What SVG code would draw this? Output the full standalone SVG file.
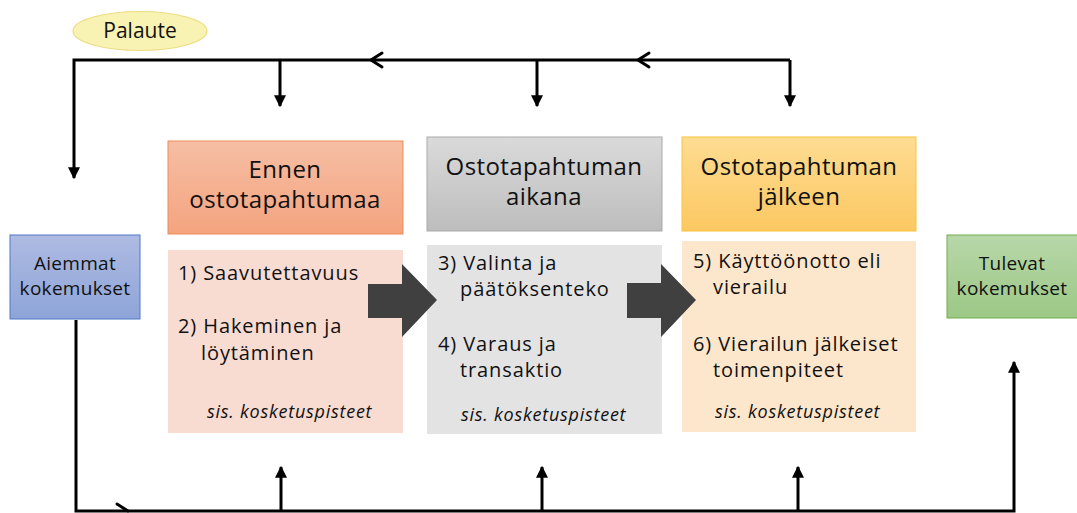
<svg xmlns="http://www.w3.org/2000/svg" width="1077" height="513" viewBox="0 0 1077 513">
<defs>
<linearGradient id="gBlue" x1="0" y1="0" x2="0" y2="1"><stop offset="0" stop-color="#aebbe2"/><stop offset="1" stop-color="#8ea4d8"/></linearGradient>
<linearGradient id="gGreen" x1="0" y1="0" x2="0" y2="1"><stop offset="0" stop-color="#b7d7a9"/><stop offset="1" stop-color="#9cc886"/></linearGradient>
<linearGradient id="gOrange" x1="0" y1="0" x2="0" y2="1"><stop offset="0" stop-color="#f6bea4"/><stop offset="1" stop-color="#f4a47f"/></linearGradient>
<linearGradient id="gGray" x1="0" y1="0" x2="0" y2="1"><stop offset="0" stop-color="#dadada"/><stop offset="1" stop-color="#bdbdbd"/></linearGradient>
<linearGradient id="gGold" x1="0" y1="0" x2="0" y2="1"><stop offset="0" stop-color="#fddc92"/><stop offset="1" stop-color="#fcc862"/></linearGradient>
<marker id="tri" viewBox="0 0 10 10" refX="9" refY="5" markerWidth="4" markerHeight="4" orient="auto" markerUnits="strokeWidth"><path d="M0,0 L10,5 L0,10 z" fill="#000"/></marker>
</defs>
<style>
.ln{stroke:#000;stroke-width:3;fill:none}
.chev{stroke:#000;stroke-width:3;fill:none;stroke-linecap:round;stroke-linejoin:miter}
.t{font-family:"Open Sans","Lato",sans-serif;fill:#111}
.h{font-size:24px;text-anchor:middle;letter-spacing:0.4px}
.b{font-size:20px;letter-spacing:0.9px}
.s{font-size:19px;text-anchor:middle;letter-spacing:0.3px}
.i{font-family:"Open Sans","Lato",sans-serif;font-style:italic;font-size:18px;letter-spacing:0.75px;fill:#111}
</style>

<g id="palaute">
<ellipse cx="140" cy="31" rx="67" ry="19.5" fill="#f8f3b3" stroke="#eddc84" stroke-width="1.2"/>
<text class="t" x="140" y="38" font-size="21" text-anchor="middle">Palaute</text>
</g>

<g id="connectors">
<path class="ln" d="M790,60 H74 V178" marker-end="url(#tri)"/>
<path class="ln" d="M280,60 V106" marker-end="url(#tri)"/>
<path class="ln" d="M537,60 V106" marker-end="url(#tri)"/>
<path class="ln" d="M790,60 V106" marker-end="url(#tri)"/>
<path class="chev" d="M382,53 L371,60 L382,67"/>
<path class="chev" d="M649,53 L638,60 L649,67"/>
<path class="ln" d="M76,320 V511 H1014 V362" marker-end="url(#tri)"/>
<path class="ln" d="M281,511 V467" marker-end="url(#tri)"/>
<path class="ln" d="M542,511 V467" marker-end="url(#tri)"/>
<path class="ln" d="M798,511 V467" marker-end="url(#tri)"/>
<path class="chev" d="M117,504 L128,511"/>
</g>

<g id="aiemmat">
<rect x="10" y="235" width="130" height="84" fill="url(#gBlue)" stroke="#4f78c8" stroke-width="1"/>
<text class="t s" x="75" y="270">Aiemmat</text>
<text class="t s" x="75" y="295">kokemukset</text>
</g>

<g id="tulevat">
<rect x="947" y="235" width="132" height="83" fill="url(#gGreen)" stroke="#72ae4c" stroke-width="1"/>
<text class="t s" x="1012" y="270">Tulevat</text>
<text class="t s" x="1012" y="295">kokemukset</text>
</g>

<g id="ennen-header">
<rect x="168" y="141" width="235" height="93" fill="url(#gOrange)" stroke="#ef8c57" stroke-width="1"/>
<text class="t h" x="285" y="178">Ennen</text>
<text class="t h" x="285" y="208">ostotapahtumaa</text>
</g>

<g id="ennen-body">
<rect x="168" y="250" width="235" height="183" fill="#f8dcd2"/>
<text class="t b" x="178" y="280">1) Saavutettavuus</text>
<text class="t b" x="178" y="333">2) Hakeminen ja</text>
<text class="t b" x="201" y="360">löytäminen</text>
<text class="i" x="207" y="418">sis. kosketuspisteet</text>
</g>

<g id="aikana-header">
<rect x="427" y="137" width="235" height="94" fill="url(#gGray)" stroke="#a9a9a9" stroke-width="1"/>
<text class="t h" x="544" y="175">Ostotapahtuman</text>
<text class="t h" x="544" y="205">aikana</text>
</g>

<g id="aikana-body">
<rect x="427" y="245" width="235" height="189" fill="#e3e3e3"/>
<text class="t b" x="438" y="270">3) Valinta ja</text>
<text class="t b" x="460" y="296">päätöksenteko</text>
<text class="t b" x="438" y="351">4) Varaus ja</text>
<text class="t b" x="460" y="377">transaktio</text>
<text class="i" x="461" y="421">sis. kosketuspisteet</text>
</g>

<g id="jalkeen-header">
<rect x="682" y="137" width="234" height="94" fill="url(#gGold)" stroke="#fcc33a" stroke-width="1"/>
<text class="t h" x="799" y="175">Ostotapahtuman</text>
<text class="t h" x="799" y="205">jälkeen</text>
</g>

<g id="jalkeen-body">
<rect x="682" y="241" width="234" height="191" fill="#fde7cc"/>
<text class="t b" x="693" y="268">5) Käyttöönotto eli</text>
<text class="t b" x="713" y="294">vierailu</text>
<text class="t b" x="693" y="351">6) Vierailun jälkeiset</text>
<text class="t b" x="713" y="377">toimenpiteet</text>
<text class="i" x="715" y="418">sis. kosketuspisteet</text>
</g>

<g id="arrow1">
<path d="M368,284 H402 V264 L437,300 L402,337 V318 H368 z" fill="#404040"/>
</g>
<g id="arrow2">
<path d="M627,283 H661 V264 L696,300 L661,337 V318 H627 z" fill="#404040"/>
</g>
</svg>
